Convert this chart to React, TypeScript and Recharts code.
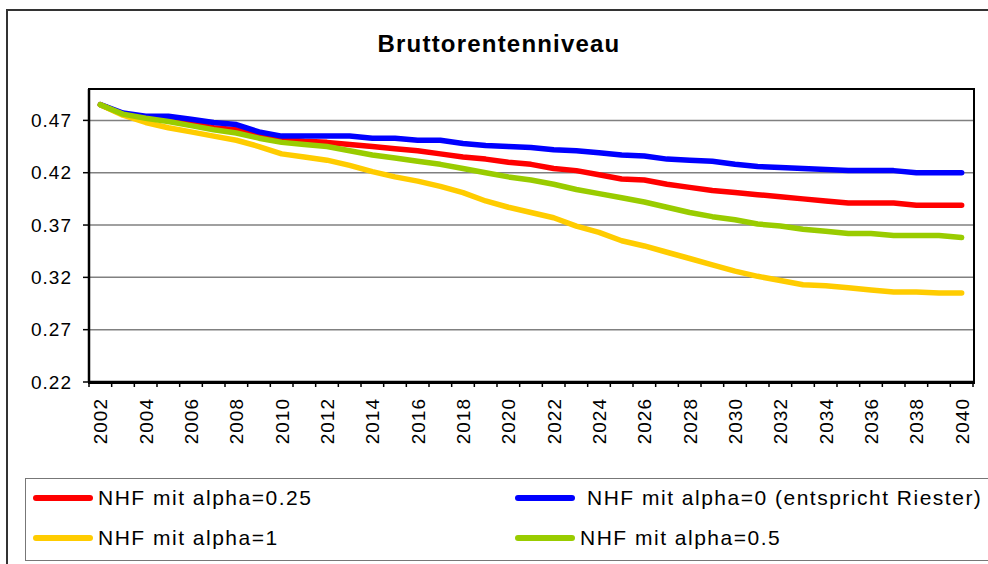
import { LineChart, Line, XAxis, YAxis, CartesianGrid } from 'recharts';

const YEARS: string[] = [
  '2002', '2003', '2004', '2005', '2006', '2007', '2008', '2009', '2010',
  '2011', '2012', '2013', '2014', '2015', '2016', '2017', '2018', '2019',
  '2020', '2021', '2022', '2023', '2024', '2025', '2026', '2027', '2028',
  '2029', '2030', '2031', '2032', '2033', '2034', '2035', '2036', '2037',
  '2038', '2039', '2040',
];

// NHF mit alpha=0.25
const ALPHA_025: number[] = [
  0.485, 0.476, 0.473, 0.471, 0.467, 0.463, 0.461, 0.456, 0.452, 0.450,
  0.449, 0.447, 0.445, 0.443, 0.441, 0.438, 0.435, 0.433, 0.430, 0.428,
  0.424, 0.422, 0.418, 0.414, 0.413, 0.409, 0.406, 0.403, 0.401, 0.399,
  0.397, 0.395, 0.393, 0.391, 0.391, 0.391, 0.389, 0.389, 0.389,
];

// NHF mit alpha=0 (entspricht Riester)
const ALPHA_0: number[] = [
  0.485, 0.477, 0.474, 0.474, 0.471, 0.468, 0.466, 0.459, 0.455, 0.455,
  0.455, 0.455, 0.453, 0.453, 0.451, 0.451, 0.448, 0.446, 0.445, 0.444,
  0.442, 0.441, 0.439, 0.437, 0.436, 0.433, 0.432, 0.431, 0.428, 0.426,
  0.425, 0.424, 0.423, 0.422, 0.422, 0.422, 0.420, 0.420, 0.420,
];

// NHF mit alpha=1
const ALPHA_1: number[] = [
  0.485, 0.475, 0.468, 0.463, 0.459, 0.455, 0.451, 0.445, 0.438, 0.435,
  0.432, 0.427, 0.421, 0.416, 0.412, 0.407, 0.401, 0.393, 0.387, 0.382,
  0.377, 0.369, 0.363, 0.355, 0.350, 0.344, 0.338, 0.332, 0.326, 0.321,
  0.317, 0.313, 0.312, 0.310, 0.308, 0.306, 0.306, 0.305, 0.305,
];

// NHF mit alpha=0.5
const ALPHA_05: number[] = [
  0.485, 0.476, 0.472, 0.469, 0.465, 0.461, 0.458, 0.453, 0.449, 0.447,
  0.445, 0.441, 0.437, 0.434, 0.431, 0.428, 0.424, 0.420, 0.416, 0.413,
  0.409, 0.404, 0.400, 0.396, 0.392, 0.387, 0.382, 0.378, 0.375, 0.371,
  0.369, 0.366, 0.364, 0.362, 0.362, 0.360, 0.360, 0.360, 0.358,
];

const Y_TICKS: number[] = [0.22, 0.27, 0.32, 0.37, 0.42, 0.47];

// legend / draw order
const SERIES = [
  { key: 'a025', name: 'NHF mit alpha=0.25', color: '#ff0000', values: ALPHA_025 },
  { key: 'a0', name: 'NHF mit alpha=0 (entspricht Riester)', color: '#0000ff', values: ALPHA_0 },
  { key: 'a1', name: 'NHF mit alpha=1', color: '#ffcc00', values: ALPHA_1 },
  { key: 'a05', name: 'NHF mit alpha=0.5', color: '#99cc00', values: ALPHA_05 },
];

const data = YEARS.map((year, i) => {
  const row: Record<string, string | number> = { year };
  SERIES.forEach((s) => { row[s.key] = s.values[i]; });
  return row;
});

const FONT = '"Liberation Sans", Arial, sans-serif';
const W = 988;
const H = 564;
const PLOT_LEFT = 89;
const PLOT_RIGHT = 973;
const PLOT_TOP = 89;
const PLOT_BOTTOM = 382;
const STEP = (PLOT_RIGHT - PLOT_LEFT) / YEARS.length;

// Excel style: tick marks between categories, label every second year
const YearTick = (props: any) => {
  const { x, y, payload, index } = props;
  const last = index === YEARS.length - 1;
  return (
    <g>
      <line x1={x - STEP / 2} x2={x - STEP / 2} y1={y} y2={y + 5} stroke="#000" strokeWidth={1.5} />
      {last && <line x1={x + STEP / 2} x2={x + STEP / 2} y1={y} y2={y + 5} stroke="#000" strokeWidth={1.5} />}
      {index % 2 === 0 && (
        <text
          transform={`translate(${x},${y + 16}) rotate(-90)`}
          textAnchor="end"
          dy="0.36em"
          fill="#000"
          fontSize={19}
          letterSpacing={1}
          fontFamily={FONT}
        >
          {payload.value}
        </text>
      )}
    </g>
  );
};

export default function App() {
  return (
    <div style={{ position: 'absolute', left: 0, top: 0, width: W, height: H, overflow: 'hidden', background: '#fff', fontFamily: FONT }}>
      {/* outer chart frame (right/bottom edges are cut off) */}
      <div style={{ position: 'absolute', left: 6, top: 9, width: 1000, height: 600, borderLeft: '2px solid #333', borderTop: '2px solid #333' }} />

      <div style={{ position: 'absolute', left: 10, top: 30, width: 978, textAlign: 'center', fontSize: 24, fontWeight: 'bold', letterSpacing: 1.2, color: '#000' }}>
        Bruttorentenniveau
      </div>

      <div style={{ position: 'absolute', left: 0, top: 0 }}>
        <LineChart
          width={W}
          height={H}
          data={data}
          margin={{ top: PLOT_TOP, right: W - PLOT_RIGHT, bottom: 0, left: 0 }}
        >
          <CartesianGrid vertical={false} stroke="#808080" strokeWidth={1.5} />
          <XAxis
            dataKey="year"
            interval={0}
            height={H - PLOT_BOTTOM}
            padding={{ left: STEP / 2, right: STEP / 2 }}
            tickSize={0}
            tickMargin={0}
            tickLine={false}
            axisLine={{ stroke: '#000', strokeWidth: 2.5 }}
            tick={(p: any) => <YearTick {...p} />}
          />
          <YAxis
            width={PLOT_LEFT}
            domain={[0.22, 0.5]}
            ticks={Y_TICKS}
            tickFormatter={(v: number) => v.toFixed(2)}
            tick={{ fill: '#000', fontSize: 19, fontFamily: FONT, letterSpacing: 1 }}
            tickSize={6}
            tickMargin={11}
            tickLine={{ stroke: '#000', strokeWidth: 1.5 }}
            axisLine={{ stroke: '#000', strokeWidth: 2.5 }}
            allowDataOverflow
          />
          {SERIES.map((s) => (
            <Line
              key={s.key}
              dataKey={s.key}
              name={s.name}
              stroke={s.color}
              strokeWidth={5.5}
              strokeLinejoin="round"
              strokeLinecap="round"
              dot={false}
              activeDot={false}
              type="linear"
              isAnimationActive={false}
            />
          ))}
        </LineChart>
      </div>

      {/* plot area border */}
      <div style={{ position: 'absolute', left: PLOT_LEFT - 1, top: PLOT_TOP - 1, width: PLOT_RIGHT - PLOT_LEFT - 1, height: PLOT_BOTTOM - PLOT_TOP - 1, border: '2px solid #000', pointerEvents: 'none' }} />

      {/* legend */}
      <div style={{ position: 'absolute', left: 25, top: 478, width: 980, height: 81, border: '1.5px solid #777' }} />
      {SERIES.map((s, i) => (
        <div
          key={s.key}
          style={{
            position: 'absolute',
            left: i % 2 === 0 ? 33 : 515,
            top: i < 2 ? 486 : 526,
            height: 24,
            display: 'flex',
            alignItems: 'center',
            whiteSpace: 'nowrap',
          }}
        >
          <span style={{ display: 'inline-block', width: 60, height: 6, borderRadius: 3, background: s.color }} />
          <span style={{ marginLeft: s.key === 'a0' ? 12 : 5, fontSize: 21, lineHeight: '24px', letterSpacing: 1.5, color: '#000' }}>
            {s.name}
          </span>
        </div>
      ))}
    </div>
  );
}
